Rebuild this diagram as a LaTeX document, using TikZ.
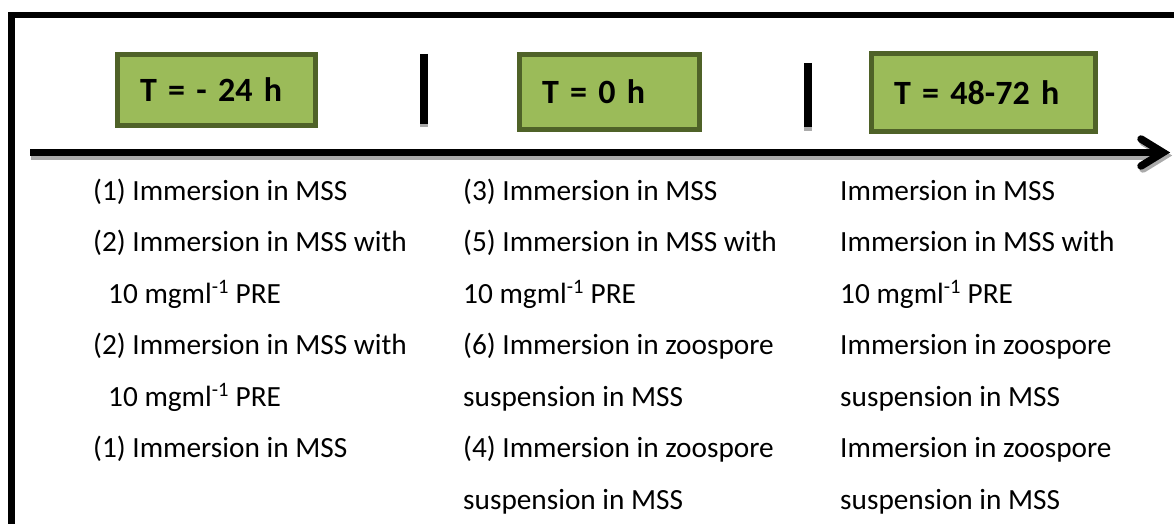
\documentclass[tikz,border=0pt]{standalone}
\usepackage{fontspec}
\setmainfont{Carlito}
\definecolor{boxfill}{HTML}{9BBB59}
\definecolor{boxborder}{HTML}{4F6228}
\definecolor{shadowc}{HTML}{AAAAAA}
\begin{document}
\begin{tikzpicture}[x=1pt,y=-1pt,
  tbox/.style={draw=boxborder, fill=boxfill, line width=5pt, inner xsep=22.5pt, inner ysep=0pt,
    align=left, font=\fontsize{34}{40}\selectfont\bfseries},
  body/.style={anchor=base west, inner sep=0pt, font=\fontsize{29.3}{32}\selectfont},
  thick line/.style={line width=7pt},
  bar/.style={line width=8pt},
  shade/.style={draw=shadowc}]
\useasboundingbox (0,0) rectangle (1174,524);
\clip (0,0) rectangle (1174,524);
% outer frame (cut off at right and bottom)
\draw[line width=6.5pt, line join=miter] (11.5,540) -- (11.5,15) -- (1190,15);
% title boxes
\node[tbox, minimum width=198pt, minimum height=71pt, text width=153pt] (b1) at (216.5,90) {T = - 24 h};
\node[tbox, minimum width=180pt, minimum height=75pt, text width=135pt] (b2) at (609.5,92) {T = 0 h};
\node[tbox, minimum width=224pt, minimum height=78pt, text width=179pt] (b3) at (983.5,92.5) {T = 48-72 h};
% separators
\coordinate (s1t) at (424,54);
\coordinate (s1b) at (424,124);
\coordinate (s2t) at (808,63);
\coordinate (s2b) at (808,127);
\draw[bar, shade] (s1b) -- ++(0,3);
\draw[bar, shade] (s2b) -- ++(0,3.5);
\draw[bar] (s1t) -- (s1b);
\draw[bar] (s2t) -- (s2b);
% time axis
\coordinate (ax0) at (30,152.5);
\coordinate (ax1) at (1163,152.5);
\coordinate (ar1) at (1141,139);
\coordinate (ar2) at (1141,166);
\draw[thick line, shade] ([shift={(1,4)}]ax0) -- ([shift={(1,4)}]ax1);
\draw[line width=7.5pt, shade, line join=miter, line cap=round]
  ([shift={(2,3)}]ar1) -- ([shift={(2,3)}]ax1) -- ([shift={(2,3)}]ar2);
\draw[thick line] (ax0) -- (ax1);
\draw[line width=7.5pt, line join=miter, line cap=round] (ar1) -- (ax1) -- (ar2);
% column 1
\foreach \t/\x [count=\i] in {(1) Immersion in MSS/93,
  (2) Immersion in MSS with/93,
  10 mgml\textsuperscript{-1} PRE/108,
  (2) Immersion in MSS with/93,
  10 mgml\textsuperscript{-1} PRE/108,
  (1) Immersion in MSS/93}
  \node[body] (c1-\i) at (\x, 200+51.5*\i-51.5) {\t};
% column 2
\foreach \t [count=\i] in {(3) Immersion in MSS,
  (5) Immersion in MSS with,
  10 mgml\textsuperscript{-1} PRE,
  (6) Immersion in zoospore,
  suspension in MSS,
  (4) Immersion in zoospore,
  suspension in MSS}
  \node[body] (c2-\i) at (463, 200+51.5*\i-51.5) {\t};
% column 3
\foreach \t [count=\i] in {Immersion in MSS,
  Immersion in MSS with,
  10 mgml\textsuperscript{-1} PRE,
  Immersion in zoospore,
  suspension in MSS,
  Immersion in zoospore,
  suspension in MSS}
  \node[body] (c3-\i) at (840, 200+51.5*\i-51.5) {\t};
\end{tikzpicture}
\end{document}
